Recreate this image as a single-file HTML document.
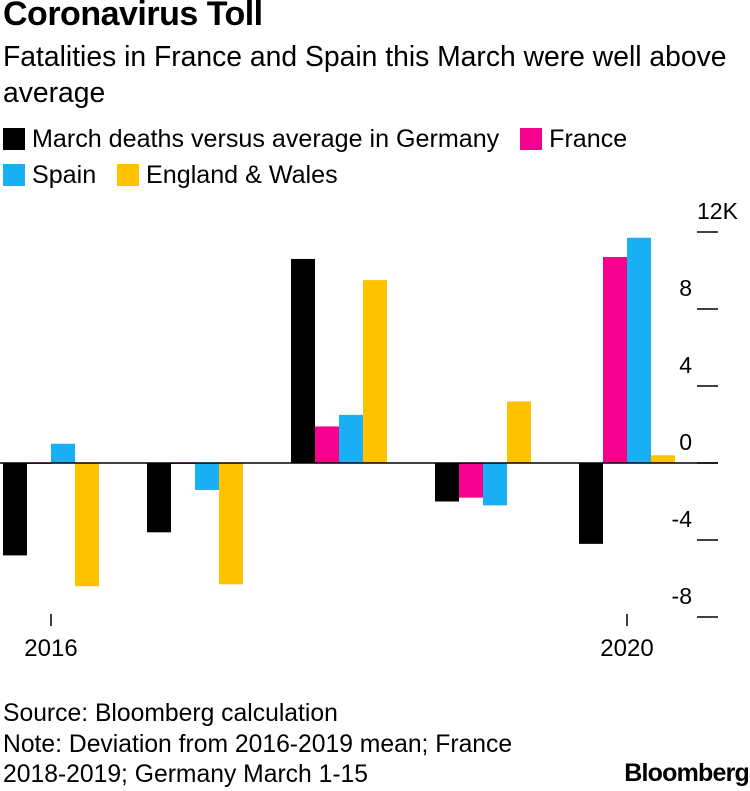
<!DOCTYPE html>
<html><head><meta charset="utf-8"><style>
body{margin:0;width:750px;height:790px;background:#fff;font-family:"Liberation Sans",sans-serif;color:#000;overflow:hidden;position:relative}
.t{position:absolute;left:3px;white-space:nowrap}
.sq{display:inline-block;width:22px;height:22px;vertical-align:-3px}
</style></head><body>
<div class="t" style="top:-5px;font-size:34px;font-weight:bold;letter-spacing:-0.5px">Coronavirus Toll</div>
<div class="t" style="top:38px;font-size:28.3px;line-height:36px;white-space:normal;width:748px">Fatalities in France and Spain this March were well above average</div>
<div style="position:absolute;left:3px;top:121px;font-size:25.1px;line-height:36px;white-space:nowrap">
<div><span><span class="sq" style="background:#000"></span> March deaths versus average in Germany</span>&nbsp;&nbsp;&nbsp;<span><span class="sq" style="background:#f4028e"></span> France</span></div>
<div><span><span class="sq" style="background:#1aaef5"></span> Spain</span>&nbsp;&nbsp;&nbsp;<span><span class="sq" style="background:#fec200"></span> England &amp; Wales</span></div>
</div>
<svg id="c" width="750" height="790" style="position:absolute;left:0;top:0"></svg>
<div class="t" style="top:699px;font-size:24.7px;line-height:30.5px">Source: Bloomberg calculation<br>Note: Deviation from 2016-2019 mean; France<br>2018-2019; Germany March 1-15</div>
<div style="position:absolute;right:1px;top:759px;font-size:25px;font-weight:bold;letter-spacing:-0.8px">Bloomberg</div>
<script>
const years=[2016,2017,2018,2019,2020];
const germany=[-4.8,-3.6,10.6,-2.0,-4.2];
const france=[-0.05,-0.05,1.9,-1.8,10.7];
const spain=[1.0,-1.4,2.5,-2.2,11.7];
const england=[-6.4,-6.3,9.5,3.2,0.4];
const yTicks=[12,8,4,0,-4,-8];
const yLabels=["12K","8","4","0","-4","-8"];
const xLabelYears=[2016,2020];
const ns="http://www.w3.org/2000/svg",svg=document.getElementById('c');
function y(v){return 463-v*19.25;}
function gx(i){return 3+i*144;}
function mk(t,a){const e=document.createElementNS(ns,t);for(const k in a)e.setAttribute(k,a[k]);svg.appendChild(e);return e;}
const series=[[germany,"#000","germany"],[france,"#f4028e","france"],[spain,"#1aaef5","spain"],[england,"#fec200","england-wales"]];
series.forEach(([d,c,n],s)=>{d.forEach((v,i)=>{
const b=mk('rect',{x:gx(i)+s*24,y:Math.min(y(v),y(0)),width:24,height:Math.max(Math.abs(y(v)-y(0)),1),fill:c});


});});
const zl=mk('line',{x1:0,x2:718,y1:y(0),y2:y(0),stroke:'#000','stroke-width':1.5});


yTicks.forEach((v,i)=>{
const l=mk('line',{x1:697,x2:718,y1:y(v),y2:y(v),stroke:'#000','stroke-width':1.5});


const isTop=i===0;
const t=mk('text',{x:isTop?697:692,y:y(v)-13,'text-anchor':isTop?'start':'end','font-size':23,'font-family':'Liberation Sans'});
t.textContent=yLabels[i];


});
xLabelYears.forEach(yr=>{
const i=years.indexOf(yr);const cx=gx(i)+48;
const l=mk('line',{x1:cx,x2:cx,y1:614,y2:626,stroke:'#000','stroke-width':1.5});


const t=mk('text',{x:cx,y:656,'text-anchor':'middle','font-size':24,'font-family':'Liberation Sans'});
t.textContent=yr;


});
</script>
</body></html>
